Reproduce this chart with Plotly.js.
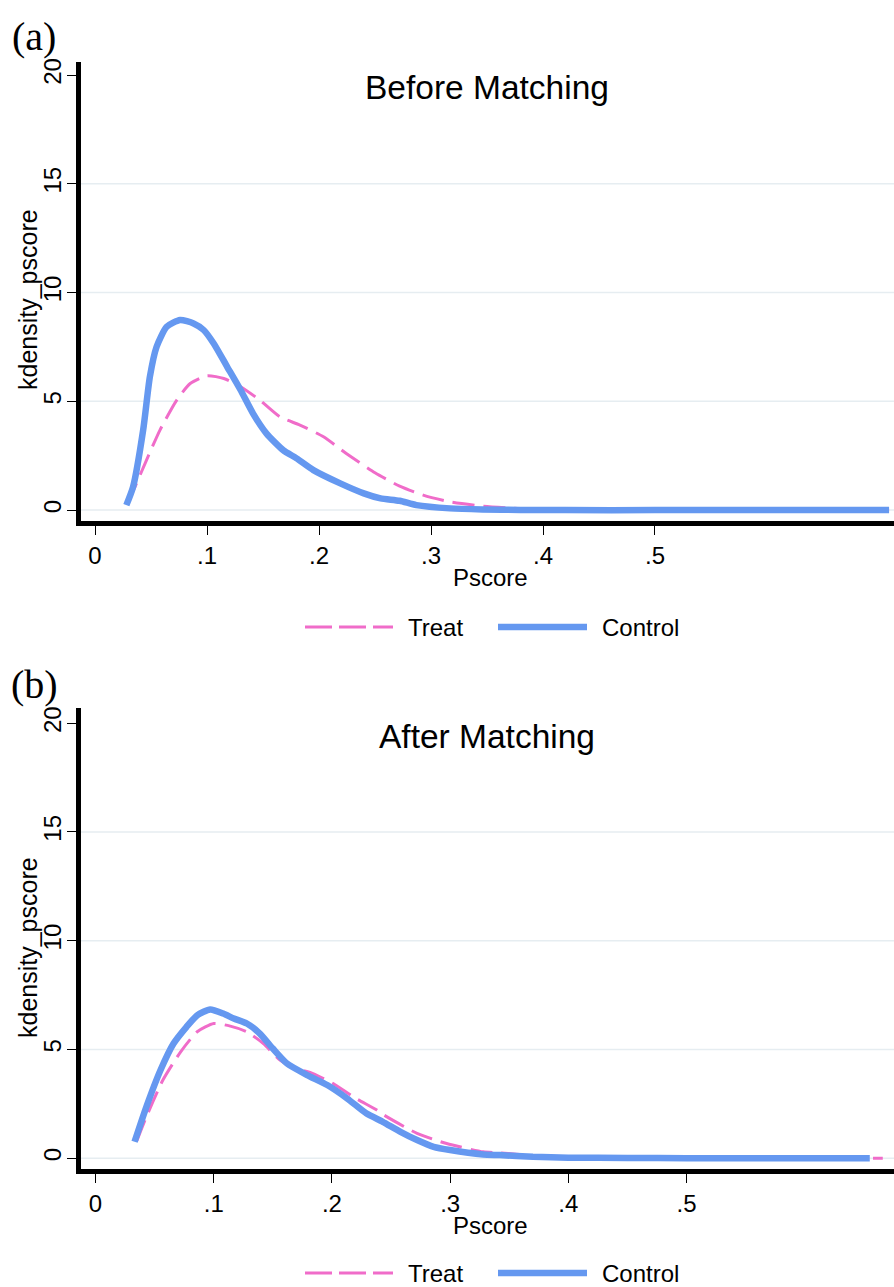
<!DOCTYPE html>
<html>
<head>
<meta charset="utf-8">
<script src="https://cdn.plot.ly/plotly-3.0.1.min.js"></script>
<style>html,body{margin:0;padding:0;background:#fff;}#chart{width:894px;height:1287px;}</style>
</head>
<body>
<div id="chart"></div>
<script>
// ---- Data ----
const seriesNames = ["Treat", "Control"];
const panelTitles = ["Before Matching", "After Matching"];
const panelLabels = ["(a)", "(b)"];
const xTickVals = [0, 0.1, 0.2, 0.3, 0.4, 0.5];
const xTickText = ["0", ".1", ".2", ".3", ".4", ".5"];
const yTickVals = [0, 5, 10, 15, 20];
const yTickText = ["0", "5", "10", "15", "20"];
const gridVals = [0, 5, 10, 15];

// Panel (a) Before Matching
const treatXA = [0.028, 0.033, 0.046, 0.058, 0.073, 0.085, 0.1, 0.115, 0.13, 0.147, 0.165, 0.183, 0.204, 0.225, 0.25, 0.272, 0.293, 0.317, 0.347, 0.377, 0.41, 0.45, 0.5, 0.55, 0.6, 0.65, 0.709];
const treatYA = [0.35, 0.77, 2.3, 3.68, 5.06, 5.82, 6.18, 6.05, 5.67, 5.06, 4.29, 3.91, 3.37, 2.58, 1.72, 1.1, 0.69, 0.38, 0.18, 0.08, 0.03, 0.01, 0.01, 0.0, 0.0, 0.0, 0.0];
const controlXA = [0.028, 0.034, 0.043, 0.049, 0.055, 0.064, 0.076, 0.088, 0.097, 0.106, 0.118, 0.13, 0.141, 0.153, 0.168, 0.18, 0.195, 0.219, 0.24, 0.255, 0.272, 0.287, 0.317, 0.346, 0.38, 0.42, 0.5, 0.6, 0.709];
const controlYA = [0.23, 1.07, 3.68, 6.13, 7.51, 8.43, 8.74, 8.58, 8.28, 7.66, 6.59, 5.52, 4.45, 3.53, 2.76, 2.38, 1.84, 1.23, 0.77, 0.54, 0.43, 0.23, 0.08, 0.03, 0.01, 0.0, 0.0, 0.0, 0.0];

// Panel (b) After Matching
const treatXB = [0.035, 0.043, 0.057, 0.072, 0.086, 0.1, 0.114, 0.128, 0.142, 0.156, 0.17, 0.184, 0.201, 0.218, 0.238, 0.244, 0.272, 0.297, 0.328, 0.342, 0.356, 0.38, 0.42, 0.5, 0.6, 0.666];
const treatYB = [0.8, 1.9, 3.59, 4.89, 5.81, 6.19, 6.07, 5.81, 5.27, 4.51, 4.12, 3.89, 3.43, 2.82, 2.21, 1.98, 1.14, 0.67, 0.29, 0.24, 0.18, 0.08, 0.02, 0.01, 0.0, 0.0];
const controlXB = [0.033, 0.043, 0.055, 0.066, 0.077, 0.086, 0.097, 0.108, 0.117, 0.128, 0.139, 0.15, 0.162, 0.179, 0.196, 0.213, 0.229, 0.243, 0.258, 0.272, 0.286, 0.3, 0.328, 0.342, 0.37, 0.4, 0.45, 0.5, 0.6, 0.655];
const controlYB = [0.75, 2.36, 4.05, 5.27, 6.04, 6.57, 6.84, 6.65, 6.42, 6.19, 5.73, 5.04, 4.35, 3.82, 3.36, 2.74, 2.06, 1.67, 1.21, 0.83, 0.52, 0.37, 0.17, 0.14, 0.06, 0.02, 0.01, 0.0, 0.0, 0.0];

// ---- Styling ----
const W = 894, H = 1287;
const px = v => v / W;
const py = v => 1 - v / H;
const FONT = "Arial, 'Liberation Sans', Helvetica, sans-serif";
const SERIF = "'Liberation Serif', 'Times New Roman', Times, serif";
const PINK = "#F06CC9";
const BLUE = "#6598F0";
const GRID = "#E6EDF1";
const TREAT_LINE = {color: PINK, width: 3, dash: "22px,9px"};
const CONTROL_LINE = {color: BLUE, width: 6.5};

function treatTrace(x, y, xa, ya) {
  return {x, y, xaxis: xa, yaxis: ya, type: "scatter", mode: "lines", name: seriesNames[0],
    line: Object.assign({shape: "spline", smoothing: 0.6}, TREAT_LINE), showlegend: false};
}
function controlTrace(x, y, xa, ya) {
  return {x, y, xaxis: xa, yaxis: ya, type: "scatter", mode: "lines", name: seriesNames[1],
    line: Object.assign({shape: "spline", smoothing: 0.6}, CONTROL_LINE), showlegend: false};
}

const data = [
  treatTrace(treatXA, treatYA, "x", "y"),
  controlTrace(controlXA, controlYA, "x", "y"),
  treatTrace(treatXB, treatYB, "x2", "y2"),
  controlTrace(controlXB, controlYB, "x2", "y2")
];

function xAxis(range, domain, anchor) {
  return {range, domain, anchor, tickvals: xTickVals, ticktext: xTickText,
    showline: true, linecolor: "#000", linewidth: 5, showgrid: false, zeroline: false,
    ticks: "outside", ticklen: 9, tickwidth: 1, tickcolor: "#000",
    tickfont: {family: FONT, size: 24, color: "#000"}, fixedrange: true};
}
function yAxis(range, domain, anchor) {
  return {range, domain, anchor, tickvals: yTickVals, ticktext: yTickText, tickangle: -90,
    showline: true, linecolor: "#000", linewidth: 5, showgrid: false, zeroline: false,
    ticks: "outside", ticklen: 9, tickwidth: 1, tickcolor: "#000", ticklabelstandoff: -4,
    tickfont: {family: FONT, size: 24, color: "#000"}, fixedrange: true};
}

const shapes = [];
[["x", "y"], ["x2", "y2"]].forEach(([xa, ya]) => {
  gridVals.forEach(g => shapes.push({type: "line", layer: "below", xref: xa + " domain", yref: ya,
    x0: 0, x1: 1, y0: g, y1: g, line: {color: GRID, width: 1.5}}));
});

const offB = 648;
const annotations = [];
[0, 1].forEach(i => {
  const o = i * offB;
  annotations.push({text: panelLabels[i], xref: "paper", yref: "paper", x: px(34), y: py(36 + o),
    xanchor: "center", yanchor: "middle", showarrow: false, font: {family: SERIF, size: 40, color: "#000"}});
  annotations.push({text: panelTitles[i], xref: "paper", yref: "paper", x: px(487), y: py(88 + o),
    xanchor: "center", yanchor: "middle", showarrow: false, font: {family: FONT, size: 33.5, color: "#000"}});
  annotations.push({text: "Pscore", xref: "paper", yref: "paper", x: px(491), y: py(577 + o),
    xanchor: "center", yanchor: "middle", showarrow: false, font: {family: FONT, size: 24, color: "#000"}});
  annotations.push({text: "kdensity_pscore", xref: "paper", yref: "paper", x: px(28), y: py(300 + o),
    xanchor: "center", yanchor: "middle", textangle: -90, showarrow: false, font: {family: FONT, size: 25, color: "#000"}});

  // Legend (drawn as key samples + labels)
  const ly = (i === 0 ? 627 : 1273);
  shapes.push({type: "line", xref: "paper", yref: "paper", x0: px(305), x1: px(393), y0: py(ly), y1: py(ly),
    line: {color: PINK, width: 3, dash: "27px,7px"}});
  shapes.push({type: "line", xref: "paper", yref: "paper", x0: px(498), x1: px(587), y0: py(ly), y1: py(ly),
    line: CONTROL_LINE});
  annotations.push({text: seriesNames[0], xref: "paper", yref: "paper", x: px(406), y: py(ly),
    xanchor: "left", yanchor: "middle", showarrow: false, font: {family: FONT, size: 24, color: "#000"}});
  annotations.push({text: seriesNames[1], xref: "paper", yref: "paper", x: px(600), y: py(ly),
    xanchor: "left", yanchor: "middle", showarrow: false, font: {family: FONT, size: 24, color: "#000"}});
});

const layout = {
  width: W, height: H, margin: {l: 0, r: 0, t: 0, b: 0},
  paper_bgcolor: "#fff", plot_bgcolor: "#fff", showlegend: false,
  xaxis: xAxis([-0.0125, 0.7134], [px(81), 1], "y"),
  yaxis: yAxis([-0.5, 20.6], [py(521), py(62)], "x"),
  xaxis2: xAxis([-0.0123, 0.6755], [px(81), 1], "y2"),
  yaxis2: yAxis([-0.5, 20.7], [py(1169), py(708)], "x2"),
  shapes, annotations
};

Plotly.newPlot("chart", data, layout, {displayModeBar: false, staticPlot: true});
</script>
</body>
</html>
